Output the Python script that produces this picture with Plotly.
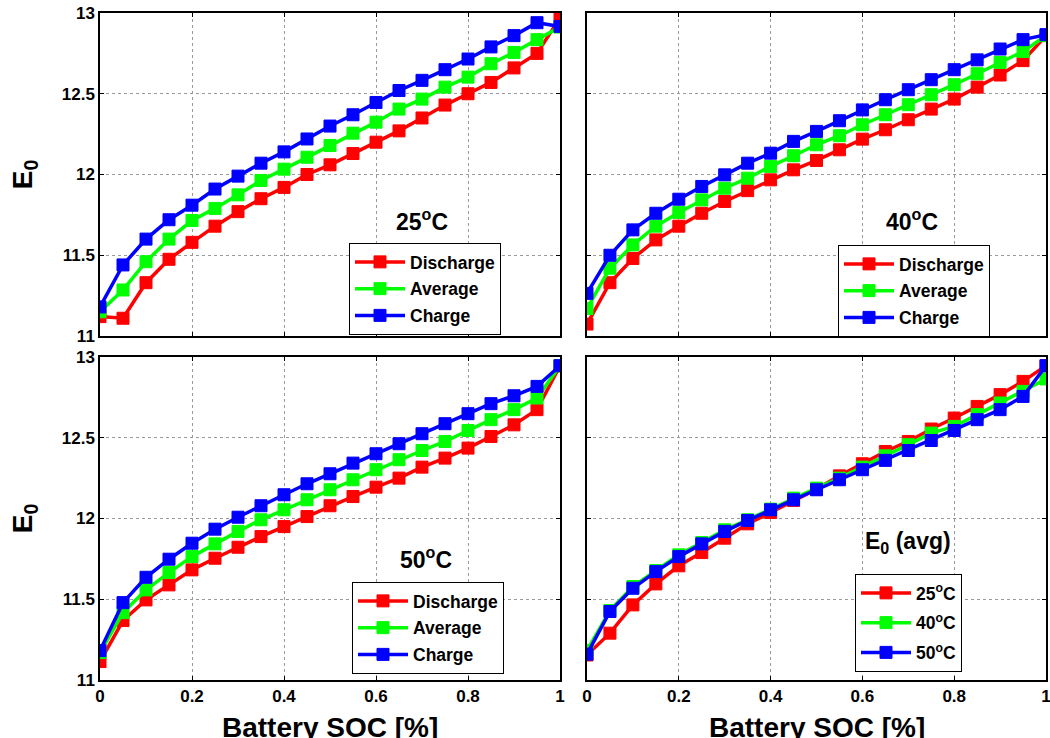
import plotly.graph_objects as go

soc = [round(i * 0.05, 2) for i in range(21)]

# 25 °C
d25 = [11.12, 11.11, 11.33, 11.475, 11.58, 11.68, 11.77, 11.85, 11.92, 12.00, 12.06,
       12.13, 12.20, 12.27, 12.35, 12.43, 12.50, 12.57, 12.66, 12.75, 12.97]
a25 = [11.15, 11.285, 11.46, 11.60, 11.715, 11.79, 11.874, 11.963, 12.033, 12.107, 12.18,
       12.256, 12.324, 12.405, 12.467, 12.541, 12.603, 12.686, 12.756, 12.835, 12.913]
c25 = [11.18, 11.44, 11.60, 11.72, 11.81, 11.91, 11.99, 12.07, 12.14, 12.22, 12.30,
       12.37, 12.446, 12.52, 12.583, 12.649, 12.715, 12.79, 12.86, 12.94, 12.917]

# 40 °C
d40 = [11.074, 11.33, 11.48, 11.595, 11.68, 11.76, 11.833, 11.90, 11.967, 12.029, 12.087,
       12.153, 12.219, 12.277, 12.339, 12.405, 12.467, 12.541, 12.616, 12.705, 12.86]
a40 = [11.17, 11.42, 11.564, 11.68, 11.765, 11.843, 11.915, 11.977, 12.05, 12.116, 12.184,
       12.24, 12.308, 12.37, 12.432, 12.494, 12.556, 12.624, 12.694, 12.762, 12.86]
c40 = [11.264, 11.50, 11.657, 11.76, 11.847, 11.926, 11.998, 12.07, 12.132, 12.205, 12.267,
       12.333, 12.40, 12.463, 12.525, 12.587, 12.649, 12.71, 12.777, 12.835, 12.866]

# 50 °C
d50 = [11.114, 11.368, 11.496, 11.589, 11.682, 11.754, 11.822, 11.888, 11.95, 12.012, 12.079,
       12.136, 12.194, 12.25, 12.318, 12.374, 12.436, 12.508, 12.58, 12.674, 12.946]
a50 = [11.17, 11.417, 11.558, 11.665, 11.764, 11.843, 11.92, 11.992, 12.054, 12.116, 12.178,
       12.24, 12.302, 12.364, 12.421, 12.477, 12.545, 12.612, 12.674, 12.746, 12.946]
c50 = [11.182, 11.479, 11.636, 11.748, 11.847, 11.934, 12.008, 12.079, 12.147, 12.215, 12.277,
       12.343, 12.401, 12.463, 12.525, 12.587, 12.649, 12.711, 12.76, 12.818, 12.946]

# Average E0 per temperature
avg25 = [11.155, 11.29, 11.465, 11.595, 11.707, 11.789, 11.878, 11.967, 12.037, 12.112, 12.182,
         12.264, 12.339, 12.415, 12.477, 12.554, 12.622, 12.694, 12.767, 12.849, 12.946]
avg40 = [11.182, 11.43, 11.579, 11.678, 11.775, 11.851, 11.93, 11.992, 12.058, 12.126, 12.188,
         12.25, 12.318, 12.388, 12.457, 12.529, 12.57, 12.643, 12.715, 12.787, 12.864]
avg50 = [11.16, 11.424, 11.568, 11.671, 11.764, 11.843, 11.92, 11.988, 12.054, 12.116, 12.178,
         12.24, 12.302, 12.36, 12.421, 12.483, 12.545, 12.612, 12.674, 12.756, 12.946]

series_names = ["Discharge", "Average", "Charge"]
temp_names = ["25<sup>o</sup>C", "40<sup>o</sup>C", "50<sup>o</sup>C"]
colors = ["#ff0000", "#00ff00", "#0000ff"]

panels = [
    ([d25, a25, c25], series_names, "25<sup>o</sup>C"),
    ([d40, a40, c40], series_names, "40<sup>o</sup>C"),
    ([d50, a50, c50], series_names, "50<sup>o</sup>C"),
    ([avg25, avg40, avg50], temp_names, "E<sub>0</sub> (avg)"),
]

W, H = 1050, 738


def px(X):
    return X / W


def py(Y):
    return 1 - Y / H


xdom = [(px(100), px(560)), (px(587), px(1046))]
ydom = [(py(336), py(13)), (py(680), py(357))]
# panel index -> (col, row)
pos = [(0, 0), (1, 0), (0, 1), (1, 1)]
legend_pos = [(px(349), py(243)), (px(838), py(245)),
              (px(352), py(582)), (px(855), py(574))]
label_pos = [(0.70, 11.72), (0.707, 11.72), (0.708, 11.755), (0.70, 11.85)]

FONT = "Liberation Sans, Arial, sans-serif"

fig = go.Figure()
layout = dict(
    width=W, height=H, margin=dict(l=0, r=0, t=0, b=0, autoexpand=False),
    paper_bgcolor="white", plot_bgcolor="white", showlegend=True,
    font=dict(family=FONT, color="black", size=17, weight="bold"),
    annotations=[],
)

for i, (ys, names, label) in enumerate(panels):
    ax = "" if i == 0 else str(i + 1)
    lg = "legend" if i == 0 else f"legend{i + 1}"
    for j, (y, name, col) in enumerate(zip(ys, names, colors)):
        fig.add_trace(go.Scatter(
            x=soc, y=y, name=name, mode="lines+markers",
            xaxis="x" + ax, yaxis="y" + ax, legend=lg,
            legendgroup=f"p{i}s{j}",
            line=dict(color=col, width=3.5),
            marker=dict(symbol="square", size=12, color=col, line=dict(color=col, width=1)),
        ))
    c, r = pos[i]
    axis_common = dict(
        showline=True, linecolor="black", linewidth=1.5, mirror="ticks",
        ticks="inside", ticklen=4, tickcolor="black",
        showgrid=True, gridcolor="#9a9a9a", griddash="dot", gridwidth=1,
        zeroline=False, automargin=False, ticklabeloverflow="allow",
        tickfont=dict(family=FONT, size=17, color="black", weight="bold"),
    )
    layout["xaxis" + ax] = dict(
        axis_common, domain=xdom[c], range=[0, 1], tickvals=[0, 0.2, 0.4, 0.6, 0.8, 1],
        ticktext=["0", "0.2", "0.4", "0.6", "0.8", "1"], showticklabels=(r == 1),
        anchor="y" + ax,
    )
    layout["yaxis" + ax] = dict(
        axis_common, domain=ydom[r], range=[11, 13], tickvals=[11, 11.5, 12, 12.5, 13],
        ticktext=["11", "11.5", "12", "12.5", "13"], showticklabels=(c == 0),
        anchor="x" + ax,
        title=dict(text="E<sub>0</sub>" if c == 0 else "",
                   font=dict(family=FONT, size=28, weight="bold"), standoff=21),
    )
    if r == 1:
        layout["annotations"].append(dict(
            x=(xdom[c][0] + xdom[c][1]) / 2, y=py(727), xref="paper", yref="paper",
            text="Battery SOC [%]", showarrow=False,
            font=dict(family=FONT, size=28, color="black", weight="bold"),
            xanchor="center", yanchor="middle",
        ))
    lx, ly = legend_pos[i]
    layout[lg] = dict(
        x=lx, y=ly, xanchor="left", yanchor="top", xref="paper", yref="paper",
        bgcolor="white", bordercolor="black", borderwidth=1,
        font=dict(family=FONT, size=17.5, color="black", weight="bold"),
        tracegroupgap=4 if i == 3 else 1, itemwidth=50,
    )
    ax_x, ax_y = label_pos[i]
    layout["annotations"].append(dict(
        x=ax_x, y=ax_y, xref="x" + ax, yref="y" + ax, text=label, showarrow=False,
        font=dict(family=FONT, size=23, color="black", weight="bold"),
        xanchor="center", yanchor="middle",
    ))

fig.update_layout(**layout)
# remove the default 8px page margin so the 1050x738 figure fills the window
fig.write_html("out.html", config={"displayModeBar": False},
               post_script="document.body.style.margin='0';")
